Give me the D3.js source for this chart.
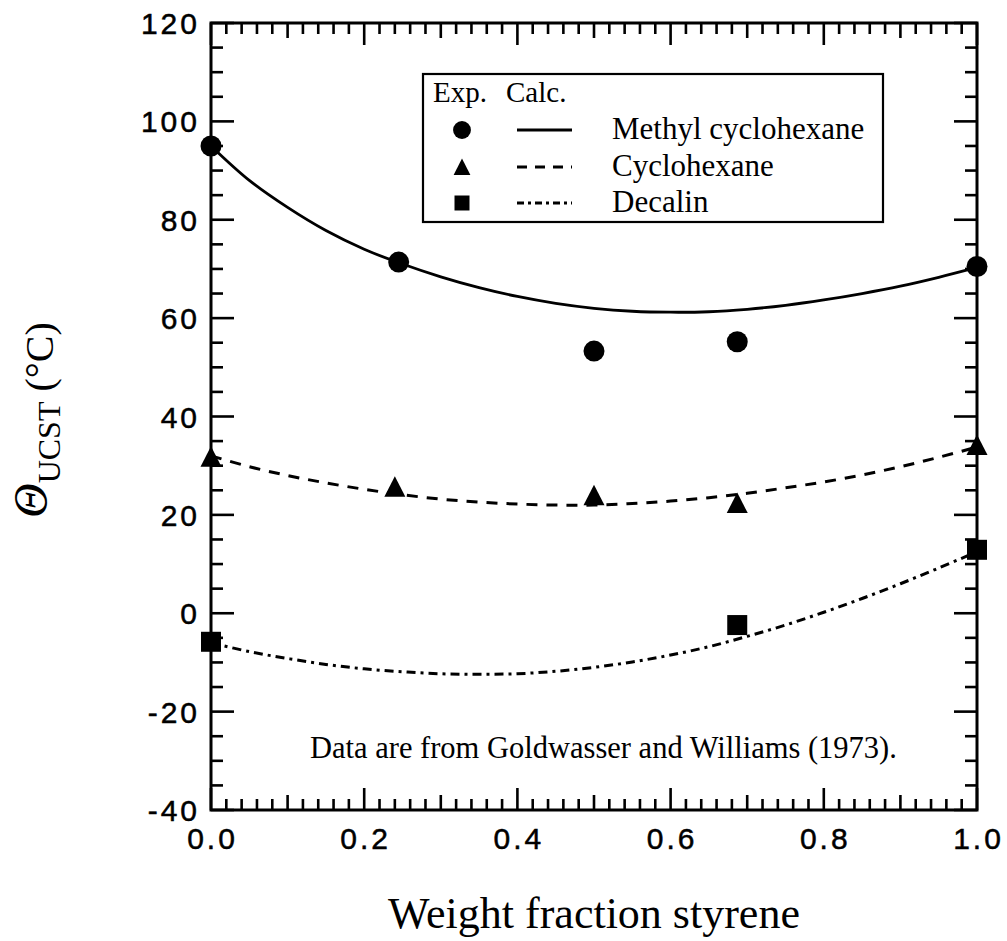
<!DOCTYPE html>
<html>
<head>
<meta charset="utf-8">
<script src="https://cdn.jsdelivr.net/npm/d3@7/dist/d3.min.js"></script>
<style>
  html, body { margin: 0; padding: 0; background: #fff; }
  svg { display: block; }
</style>
</head>
<body>
<svg id="chart" width="1007" height="941"></svg>
<script>
// ---------- DATA ----------
const seriesNames = ["Methyl cyclohexane", "Cyclohexane", "Decalin"];

// Experimental points
const mchExpX = [0.0, 0.245, 0.5, 0.687, 1.0];
const mchExpY = [95.0, 71.4, 53.3, 55.2, 70.5];
const chExpX  = [0.0, 0.24, 0.5, 0.687, 1.0];
const chExpY  = [31.8, 25.7, 24.0, 22.4, 34.2];
const decExpX = [0.0, 0.687, 1.0];
const decExpY = [-5.8, -2.4, 12.9];

// Calculated curves
const calcX   = [0, 0.05, 0.1, 0.15, 0.2, 0.25, 0.3, 0.35, 0.4, 0.45, 0.5, 0.55, 0.6, 0.65, 0.7, 0.75, 0.8, 0.85, 0.9, 0.95, 1.0];
const mchCalc = [95.0, 88.0, 82.5, 77.8, 74.0, 71.0, 68.4, 66.2, 64.4, 63.0, 62.0, 61.4, 61.2, 61.3, 61.8, 62.6, 63.7, 65.0, 66.5, 68.3, 70.3];
const chCalc  = [32.0, 29.8, 28.0, 26.5, 25.2, 24.1, 23.2, 22.6, 22.2, 22.0, 22.0, 22.3, 22.8, 23.5, 24.4, 25.5, 26.7, 28.1, 29.8, 31.7, 33.8];
const decCalc = [-6.0, -7.8, -9.2, -10.4, -11.3, -11.9, -12.3, -12.4, -12.3, -11.8, -11.0, -9.9, -8.5, -6.8, -4.7, -2.4, 0.2, 3.0, 6.0, 9.2, 12.5];

// Axis ticks / labels
const xMajor = [0, 0.2, 0.4, 0.6, 0.8, 1.0];
const xTickLabels = ["0.0", "0.2", "0.4", "0.6", "0.8", "1.0"];
const yMajor = [-40, -20, 0, 20, 40, 60, 80, 100, 120];
const yTickLabels = ["-40", "-20", "0", "20", "40", "60", "80", "100", "120"];

const xTitle = "Weight fraction styrene";
const footnote = "Data are from Goldwasser and Williams (1973).";

// ---------- LAYOUT ----------
const svg = d3.select("#chart");
const L = 211, R = 977, T = 23, B = 810;
const x = d3.scaleLinear().domain([0, 1]).range([L, R]);
const y = d3.scaleLinear().domain([-40, 120]).range([B, T]);

const g = svg.append("g");

// ---------- TICKS (inward, all four sides) ----------
const xMinor = d3.range(0, 51).map(i => i / 50);
function xTickLen(v) {
  const k = Math.round(v * 50);
  if (k % 10 === 0) return 22;
  if (k % 5 === 0) return 15;
  return 11;
}
const yMinor = d3.range(-40, 121, 5);
function yTickLen(v) { return (v % 20 === 0) ? 23 : 12; }

const tickG = g.append("g").attr("stroke", "#000").attr("stroke-width", 2.6);
tickG.selectAll("line.xb").data(xMinor).join("line").attr("class", "xb")
  .attr("x1", d => x(d)).attr("x2", d => x(d))
  .attr("y1", B).attr("y2", d => B - xTickLen(d));
tickG.selectAll("line.xt").data(xMinor).join("line").attr("class", "xt")
  .attr("x1", d => x(d)).attr("x2", d => x(d))
  .attr("y1", T).attr("y2", d => T + xTickLen(d));
tickG.selectAll("line.yl").data(yMinor).join("line").attr("class", "yl")
  .attr("y1", d => y(d)).attr("y2", d => y(d))
  .attr("x1", L).attr("x2", d => L + yTickLen(d));
tickG.selectAll("line.yr").data(yMinor).join("line").attr("class", "yr")
  .attr("y1", d => y(d)).attr("y2", d => y(d))
  .attr("x1", R).attr("x2", d => R - yTickLen(d));

// Frame
g.append("rect").attr("x", L).attr("y", T).attr("width", R - L).attr("height", B - T)
  .attr("fill", "none").attr("stroke", "#000").attr("stroke-width", 3);

// Tick labels
const tickFont = "'Liberation Sans', Arial, sans-serif";
g.selectAll("text.xl").data(xMajor).join("text").attr("class", "xl")
  .attr("x", d => x(d) + 1.5).attr("y", 849)
  .attr("text-anchor", "middle")
  .attr("font-family", tickFont).attr("font-size", 30).attr("letter-spacing", 3)
  .attr("stroke", "#000").attr("stroke-width", 0.5)
  .text((d, i) => xTickLabels[i]);
g.selectAll("text.yl").data(yMajor).join("text").attr("class", "yl")
  .attr("x", 200).attr("y", d => y(d) + 11)
  .attr("text-anchor", "end")
  .attr("font-family", tickFont).attr("font-size", 30).attr("letter-spacing", 3)
  .attr("stroke", "#000").attr("stroke-width", 0.5)
  .text((d, i) => yTickLabels[i]);

// Axis titles
const serif = "'Liberation Serif', 'Times New Roman', serif";
g.append("text").attr("x", (L + R) / 2).attr("y", 928).attr("text-anchor", "middle")
  .attr("font-family", serif).attr("font-size", 44).text(xTitle);

const yt = g.append("text").attr("transform", "translate(53,518) rotate(-90)")
  .attr("font-family", serif).attr("font-size", 40);
yt.append("tspan").attr("font-style", "italic").attr("font-size", 48).attr("dy", -6).text("\u0398");
yt.append("tspan").attr("font-size", 32).attr("dy", 13).text("UCST");
yt.append("tspan").attr("dy", -7).text(" (\u00B0C)");

// Footnote
g.append("text").attr("x", 310).attr("y", 758)
  .attr("font-family", serif).attr("font-size", 30.5).text(footnote);

// ---------- CURVES ----------
const styles = [
  { dash: null, width: 2.8 },
  { dash: "11,9", width: 3 },
  { dash: "9,5,3,5", width: 3 }
];
const calcSeries = [mchCalc, chCalc, decCalc];
const line = d3.line().x(d => x(d[0])).y(d => y(d[1])).curve(d3.curveCatmullRom.alpha(0.5));
calcSeries.forEach((vals, i) => {
  g.append("path")
    .datum(calcX.map((xx, j) => [xx, vals[j]]))
    .attr("d", line)
    .attr("fill", "none").attr("stroke", "#000")
    .attr("stroke-width", styles[i].width)
    .attr("stroke-dasharray", styles[i].dash);
});

// ---------- MARKERS ----------
const circlePath = "M10.5,0A10.5,10.5 0 1,1 -10.5,0A10.5,10.5 0 1,1 10.5,0Z";
const triPath = "M0,-10.5L10.5,10L-10.5,10Z";
const sqPath = "M-10,-10H10V10H-10Z";
const markerPaths = [circlePath, triPath, sqPath];
const expSeries = [[mchExpX, mchExpY], [chExpX, chExpY], [decExpX, decExpY]];
expSeries.forEach(([xs, ys], i) => {
  g.selectAll(null).data(xs.map((xx, j) => [xx, ys[j]])).join("path")
    .attr("d", markerPaths[i])
    .attr("transform", d => `translate(${x(d[0])},${y(d[1])})`)
    .attr("fill", "#000");
});

// ---------- LEGEND ----------
const lg = g.append("g");
lg.append("rect").attr("x", 423).attr("y", 74).attr("width", 460).attr("height", 148)
  .attr("fill", "#fff").attr("stroke", "#000").attr("stroke-width", 2.2);
lg.append("text").attr("x", 433).attr("y", 102).attr("font-family", serif).attr("font-size", 29).text("Exp.");
lg.append("text").attr("x", 506).attr("y", 102).attr("font-family", serif).attr("font-size", 29).text("Calc.");
const rowY = [130, 167, 203];
const legendScale = [0.85, 0.8, 0.75];
seriesNames.forEach((name, i) => {
  lg.append("path").attr("d", markerPaths[i])
    .attr("transform", `translate(462,${rowY[i]}) scale(${legendScale[i]})`)
    .attr("fill", "#000");
  lg.append("line").attr("x1", 517).attr("x2", 572).attr("y1", rowY[i]).attr("y2", rowY[i])
    .attr("stroke", "#000").attr("stroke-width", styles[i].width)
    .attr("stroke-dasharray", i === 1 ? "10,8" : (i === 2 ? "7,4,3,4" : null));
  lg.append("text").attr("x", 612).attr("y", rowY[i] + 9)
    .attr("font-family", serif).attr("font-size", 31).text(name);
});
</script>
</body>
</html>
